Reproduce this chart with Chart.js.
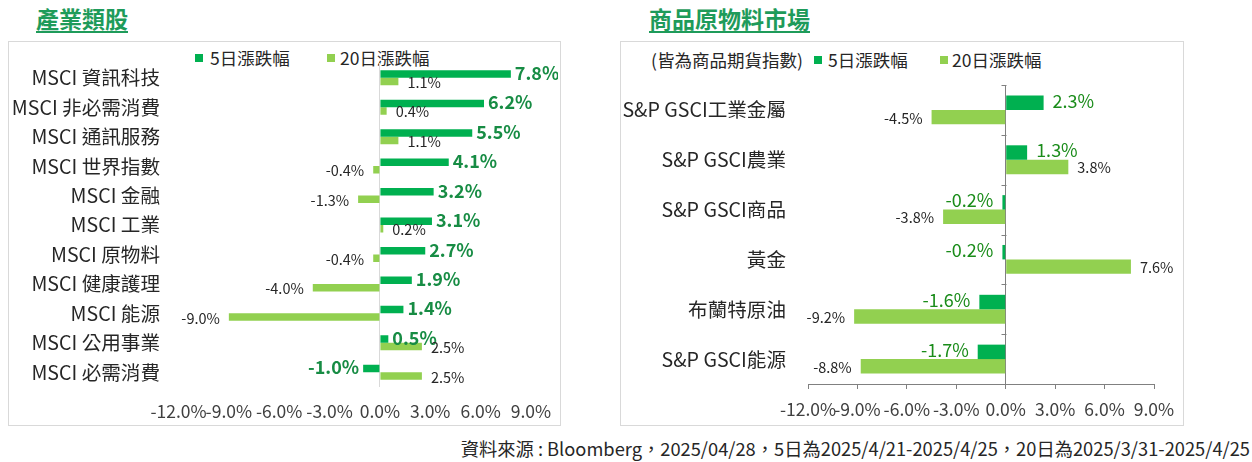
<!DOCTYPE html>
<html>
<head>
<meta charset="utf-8">
<script src="https://cdn.jsdelivr.net/npm/chart.js@4.4.1/dist/chart.umd.min.js"></script>
<style>
body { margin:0; width:1252px; height:462px; background:#fff; position:relative; overflow:hidden; font-family:"Noto Sans CJK TC", sans-serif; color:#262626; }
.box { position:absolute; border:1px solid #d9d9d9; box-sizing:border-box; }
.title { position:absolute; font-size:23px; font-weight:bold; color:#1e9b5a; border-bottom:2px solid #1e9b5a; line-height:26px; white-space:nowrap; }
.lg { position:absolute; font-size:17.5px; line-height:20px; white-space:nowrap; }
.sq { position:absolute; width:8px; height:8px; }
canvas { position:absolute; }
.src { position:absolute; right:2px; top:437px; font-size:18.3px; line-height:22px; white-space:nowrap; }
</style>
</head>
<body>
<div class="title" style="left:36px; top:5px;">產業類股</div>
<div class="title" style="left:649px; top:5px;">商品原物料市場</div>
<div class="box" style="left:8px; top:41px; width:553px; height:385px;"></div>
<div class="box" style="left:620px; top:41px; width:564px; height:385px;"></div>

<div class="sq" style="left:195px; top:54px; background:#00b050;"></div>
<div class="lg" style="left:210px; top:48px;">5日漲跌幅</div>
<div class="sq" style="left:327px; top:54px; background:#92d050;"></div>
<div class="lg" style="left:340px; top:48px;">20日漲跌幅</div>

<div class="lg" style="left:651px; top:50px;">(皆為商品期貨指數)</div>
<div class="sq" style="left:814px; top:56px; background:#00b050;"></div>
<div class="lg" style="left:828px; top:50px;">5日漲跌幅</div>
<div class="sq" style="left:940px; top:56px; background:#92d050;"></div>
<div class="lg" style="left:952px; top:50px;">20日漲跌幅</div>

<canvas id="sectorChart" width="548" height="380" style="left:10px; top:43px; width:548px; height:380px;"></canvas>
<canvas id="commodityChart" width="559" height="380" style="left:622px; top:43px; width:559px; height:380px;"></canvas>

<div class="src">資料來源 : Bloomberg，2025/04/28，5日為2025/4/21-2025/4/25，20日為2025/3/31-2025/4/25</div>

<script>
// sector returns (%)
var sectorNames = ['MSCI 資訊科技', 'MSCI 非必需消費', 'MSCI 通訊服務', 'MSCI 世界指數', 'MSCI 金融', 'MSCI 工業',
    'MSCI 原物料', 'MSCI 健康護理', 'MSCI 能源', 'MSCI 公用事業', 'MSCI 必需消費'];
var sector5d = [7.8, 6.2, 5.5, 4.1, 3.2, 3.1, 2.7, 1.9, 1.4, 0.5, -1.0];
var sector20d = [1.1, 0.4, 1.1, -0.4, -1.3, 0.2, -0.4, -4.0, -9.0, 2.5, 2.5];

// commodity returns (%)
var commodityNames = ['S&P GSCI工業金屬', 'S&P GSCI農業', 'S&P GSCI商品', '黃金', '布蘭特原油', 'S&P GSCI能源'];
var commodity5d = [2.3, 1.3, -0.2, -0.2, -1.6, -1.7];
var commodity20d = [-4.5, 3.8, -3.8, 7.6, -9.2, -8.8];

var xTickValues = [-12, -9, -6, -3, 0, 3, 6, 9];

var FONT = '"Noto Sans CJK TC", "Noto Sans", sans-serif';
Chart.defaults.font.family = FONT;

function pct(v) {
    return Number(v).toFixed(1) + '%';
}

// value labels at the bar ends
var barLabels = {
    id: 'barLabels',
    afterDatasetsDraw: function(chart, args, opts) {
        var ctx = chart.ctx;
        chart.data.datasets.forEach(function(ds, i) {
            var st = opts.styles[i];
            var meta = chart.getDatasetMeta(i);
            ctx.save();
            ctx.font = st.font;
            ctx.fillStyle = st.color;
            ctx.textBaseline = 'middle';
            meta.data.forEach(function(bar, j) {
                var v = ds.data[j];
                var neg = v < 0;
                ctx.textAlign = neg ? 'right' : 'left';
                ctx.fillText(pct(v), bar.x + (neg ? -st.offset : st.offset), bar.y + st.dy);
            });
            ctx.restore();
        });
    }
};

// small ticks on the zero line between categories
var zeroAxisTicks = {
    id: 'zeroAxisTicks',
    afterDatasetsDraw: function(chart) {
        var ctx = chart.ctx;
        var x0 = Math.round(chart.scales.x.getPixelForValue(0)) + 0.5;
        var ys = chart.scales.y;
        var n = chart.data.labels.length;
        var step = ys.getPixelForValue(1) - ys.getPixelForValue(0);
        ctx.save();
        ctx.strokeStyle = '#808080';
        ctx.lineWidth = 1;
        ctx.beginPath();
        for (var i = 0; i <= n; i++) {
            var y = Math.round(ys.getPixelForValue(0) - step / 2 + i * step) + 0.5;
            ctx.moveTo(x0 - 5, y);
            ctx.lineTo(x0, y);
        }
        ctx.stroke();
        ctx.restore();
    }
};

function makeOptions(cfg) {
    return {
        indexAxis: 'y',
        responsive: false,
        animation: false,
        layout: { padding: { top: cfg.top, right: cfg.right, bottom: 0, left: 0 } },
        plugins: {
            legend: { display: false },
            tooltip: { enabled: false },
            barLabels: { styles: cfg.labelStyles }
        },
        scales: {
            x: {
                min: -12,
                max: 9,
                afterBuildTicks: function(s) {
                    s.ticks = xTickValues.map(function(v) { return { value: v }; });
                },
                afterFit: function(s) {
                    s.height = cfg.xHeight;
                    s.paddingLeft = 0;
                    s.paddingRight = 0;
                },
                border: { display: cfg.axisLine, color: '#808080' },
                grid: {
                    drawTicks: cfg.axisLine,
                    tickLength: 5,
                    tickColor: '#808080',
                    color: function(c) {
                        return c.tick && c.tick.value === 0 ? cfg.zeroColor : 'rgba(0,0,0,0)';
                    }
                },
                ticks: {
                    padding: cfg.xPad,
                    maxRotation: 0,
                    autoSkip: false,
                    color: '#404040',
                    font: { size: 17.5 },
                    callback: function(v) { return pct(v); }
                }
            },
            y: {
                afterFit: function(s) {
                    s.width = cfg.yWidth;
                    s.paddingTop = 0;
                    s.paddingBottom = 0;
                },
                border: { display: false },
                grid: { display: false, drawTicks: false },
                ticks: {
                    padding: cfg.yPad,
                    autoSkip: false,
                    color: '#262626',
                    font: { size: 19.6 }
                }
            }
        }
    };
}

new Chart(document.getElementById('sectorChart').getContext('2d'), {
    type: 'bar',
    data: {
        labels: sectorNames,
        datasets: [
            { label: '5日漲跌幅', data: sector5d, backgroundColor: '#00b050', categoryPercentage: 0.51, barPercentage: 1 },
            { label: '20日漲跌幅', data: sector20d, backgroundColor: '#92d050', categoryPercentage: 0.51, barPercentage: 1 }
        ]
    },
    options: makeOptions({
        top: 20, right: 27, xHeight: 36, yWidth: 168.5, xPad: 14, yPad: 18.5,
        axisLine: false, zeroColor: '#d9d9d9',
        labelStyles: [
            { font: 'bold 18px ' + FONT, color: '#178c44', offset: 4, dy: -1 },
            { font: '14.5px ' + FONT, color: '#262626', offset: 9, dy: 1 }
        ]
    }),
    plugins: [barLabels]
});

new Chart(document.getElementById('commodityChart').getContext('2d'), {
    type: 'bar',
    data: {
        labels: commodityNames,
        datasets: [
            { label: '5日漲跌幅', data: commodity5d, backgroundColor: '#00b050', categoryPercentage: 0.58, barPercentage: 1 },
            { label: '20日漲跌幅', data: commodity20d, backgroundColor: '#92d050', categoryPercentage: 0.58, barPercentage: 1 }
        ]
    },
    options: makeOptions({
        top: 42, right: 27, xHeight: 39, yWidth: 186, xPad: 10, yPad: 22,
        axisLine: true, zeroColor: '#808080',
        labelStyles: [
            { font: '18px ' + FONT, color: '#1a8c1a', offset: 9, dy: -2 },
            { font: '14.5px ' + FONT, color: '#262626', offset: 9, dy: 1 }
        ]
    }),
    plugins: [barLabels, zeroAxisTicks]
});
</script>
</body>
</html>
